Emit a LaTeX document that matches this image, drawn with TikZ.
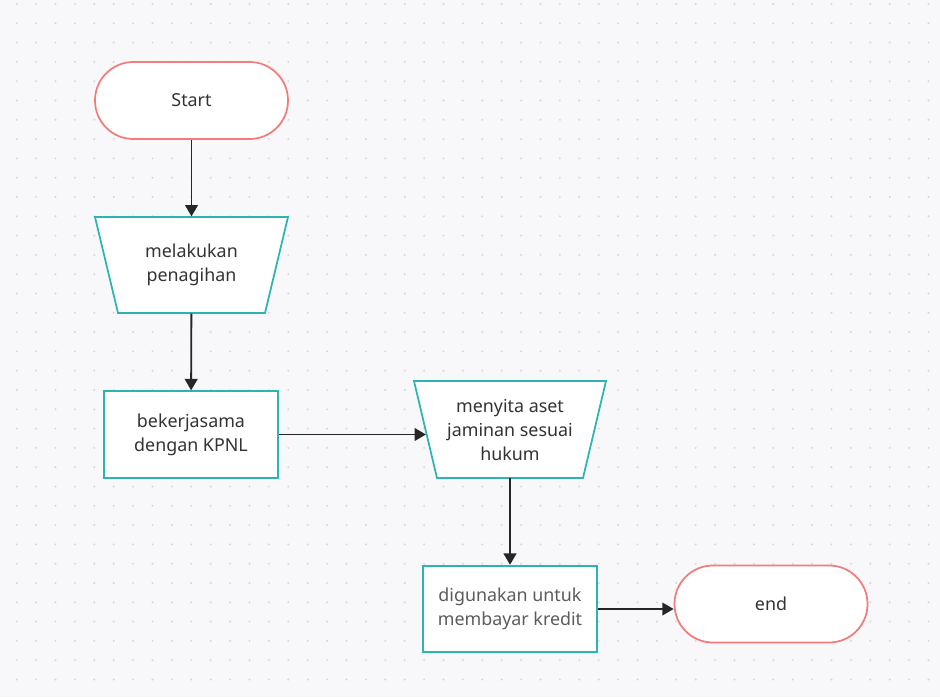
\documentclass[tikz,border=0pt]{standalone}
\usepackage{fontspec}
\setmainfont{Noto Sans}
\usepackage{xcolor}
\definecolor{bgpage}{RGB}{248,248,250}
\definecolor{griddot}{RGB}{214,214,220}
\definecolor{termred}{RGB}{242,124,124}
\definecolor{stepteal}{RGB}{44,180,178}
\definecolor{txtgray}{RGB}{51,51,51}
\usetikzlibrary{arrows.meta}

\begin{document}
\begin{tikzpicture}[x=0.75pt,y=-0.75pt,
    every node/.style={font=\fontsize{13.4}{18}\selectfont, text=txtgray, align=center},
    terminal/.style={draw=termred, fill=white, line width=1.3pt, rounded corners=28.8pt,
      minimum width=144.75pt, minimum height=57.75pt},
    manualop/.style={minimum width=144.5pt, minimum height=72.5pt},
    trapline/.style={draw=stepteal, fill=white, line width=1.3pt},
    procbox/.style={draw=stepteal, fill=white, line width=1.3pt,
      minimum width=130.5pt, minimum height=65pt},
    flow/.style={-{Triangle[length=8.5pt,width=9.5pt]}, line width=1.4pt, draw=black!85}]
    \useasboundingbox (0,0) rectangle (940,697);
    \fill [bgpage] (0,0) rectangle (940,697);
    \foreach \i in {0,...,47}
      \foreach \j in {0,...,35}
        \fill [griddot] (16.7+19.4*\i,4+19.3*\j) circle (0.8pt);

    \node [terminal] (start) at (191.5,100.5) {Start};

    % manual operation boxes: outline drawn first, text node on top
    \draw [trapline] (95,217) -- (288,217) -- (265,313) -- (118,313) -- cycle;
    \node [manualop] (tagih) at (191.5,265) {melakukan\\penagihan};
    \draw [trapline] (414,381) -- (606,381) -- (583,478) -- (437,478) -- cycle;
    \node [manualop] (sita) at (510,429.5) {menyita aset\\jaminan sesuai\\hukum};

    \node [procbox] (kpnl) at (191,434.5) {bekerjasama\\dengan KPNL};
    \node [procbox, text=txtgray!80] (bayar) at (510,609) {digunakan untuk\\membayar kredit};
    \node [terminal] (end) at (771,604) {end};

    \draw [flow] (start) -- (tagih);
    \draw [flow] (tagih) -- (kpnl);
    \draw [flow, shorten >=-9.4pt] (kpnl.east) -- (kpnl.east -| sita.west);
    \draw [flow] (sita) -- (bayar);
    \draw [flow] (bayar.east) -- (bayar.east -| end.west);
  \end{tikzpicture}
\end{document}
